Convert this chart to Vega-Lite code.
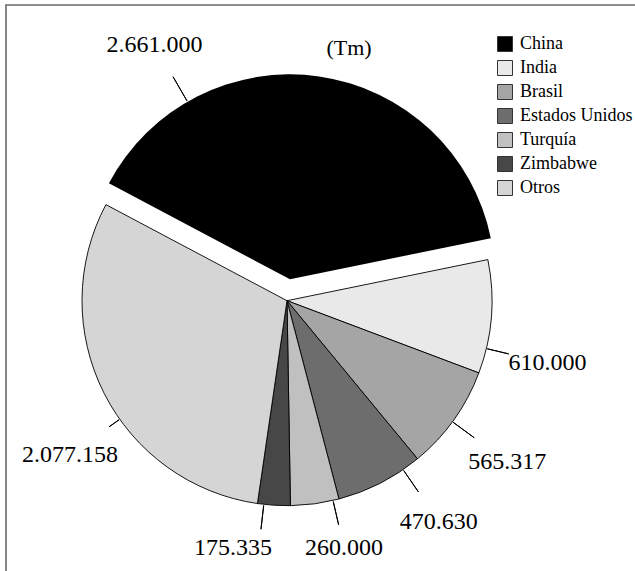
{
  "$schema": "https://vega.github.io/schema/vega-lite/v6.json",
  "width": 635,
  "height": 571,
  "autosize": {"type": "fit", "contains": "padding"},
  "padding": {"left": 6, "top": 5, "right": -3, "bottom": -3},
  "background": "#ffffff",
  "view": {"stroke": "#6a6a6a", "strokeWidth": 1.6},
  "config": {
    "view": {"stroke": "#6a6a6a", "strokeWidth": 1.6},
    "locale": {"number": {"decimal": ",", "thousands": ".", "grouping": [3], "currency": ["", " €"]}}
  },
  "title": {"text": "(Tm)", "anchor": "middle", "frame": "group", "dx": 27, "offset": -72, "baseline": "alphabetic", "font": "Liberation Serif", "fontSize": 22, "fontWeight": "normal", "color": "#000000"},
  "data": {"values": [
    {"pais": "China", "valor": 2661000},
    {"pais": "India", "valor": 610000},
    {"pais": "Brasil", "valor": 565317},
    {"pais": "Estados Unidos", "valor": 470630},
    {"pais": "Turquía", "valor": 260000},
    {"pais": "Zimbabwe", "valor": 175335},
    {"pais": "Otros", "valor": 2077158}
  ]},
  "transform": [
    {"stack": "valor", "groupby": [], "as": ["v0", "v1"]},
    {"calculate": "(datum.v0 + datum.v1) / 2", "as": "mid"}
  ],
  "encoding": {
    "theta": {"field": "mid", "type": "quantitative", "scale": {"domain": [0, 6819440], "range": [-1.08298, 5.2002], "zero": false, "nice": false}},
    "theta2": {"field": "mid"}
  },
  "layer": [
    {
      "transform": [{"filter": "datum.pais !== 'China'"}],
      "mark": {"type": "arc", "outerRadius": 205, "stroke": "#000000", "strokeWidth": 0.9, "xOffset": -35, "yOffset": 11.2},
      "encoding": {
        "theta": {"field": "v0", "type": "quantitative", "scale": {"domain": [0, 6819440], "range": [-1.08298, 5.2002], "zero": false, "nice": false}},
        "theta2": {"field": "v1"},
        "color": {"field": "pais", "type": "nominal",
          "scale": {"domain": ["China", "India", "Brasil", "Estados Unidos", "Turquía", "Zimbabwe", "Otros"],
                    "range": ["#000000", "#e9e9e9", "#a5a5a5", "#6d6d6d", "#c0c0c0", "#474747", "#d5d5d5"]},
          "legend": {"title": null, "orient": "none", "legendX": 490, "legendY": 30, "padding": 0,
            "symbolType": "square", "symbolSize": 225, "symbolStrokeColor": "#333333", "symbolStrokeWidth": 1, "symbolOpacity": 1,
            "labelFont": "Liberation Serif", "labelFontSize": 18, "labelColor": "#000000", "labelOffset": 6, "rowPadding": 4}}
      }
    },
    {
      "transform": [{"filter": "datum.pais === 'China'"}],
      "mark": {"type": "arc", "outerRadius": 205, "strokeWidth": 0, "xOffset": -32, "yOffset": -10.2},
      "encoding": {
        "theta": {"field": "v0", "type": "quantitative", "scale": {"domain": [0, 6819440], "range": [-1.08298, 5.2002], "zero": false, "nice": false}},
        "theta2": {"field": "v1"},
        "color": {"field": "pais", "type": "nominal"}
      }
    },
    {"transform": [{"filter": "datum.pais === 'China'"}],
     "mark": {"type": "arc", "innerRadius": 206, "outerRadius": 234, "stroke": "#000000", "strokeWidth": 1, "fillOpacity": 0, "thetaOffset": -0.6665, "theta2Offset": -0.6665, "xOffset": -32, "yOffset": -10.2}},
    {"transform": [{"filter": "datum.pais === 'India'"}],
     "mark": {"type": "arc", "innerRadius": 206, "outerRadius": 228, "stroke": "#000000", "strokeWidth": 1, "fillOpacity": 0, "thetaOffset": 0.1566, "theta2Offset": 0.1566, "xOffset": -35, "yOffset": 11.2}},
    {"transform": [{"filter": "datum.pais === 'Brasil'"}],
     "mark": {"type": "arc", "innerRadius": 206, "outerRadius": 232, "stroke": "#000000", "strokeWidth": 1, "fillOpacity": 0, "thetaOffset": 0.0113, "theta2Offset": 0.0113, "xOffset": -35, "yOffset": 11.2}},
    {"transform": [{"filter": "datum.pais === 'Estados Unidos'"}],
     "mark": {"type": "arc", "innerRadius": 206, "outerRadius": 232, "stroke": "#000000", "strokeWidth": 1, "fillOpacity": 0, "thetaOffset": -0.129, "theta2Offset": -0.129, "xOffset": -35, "yOffset": 11.2}},
    {"transform": [{"filter": "datum.pais === 'Turquía'"}],
     "mark": {"type": "arc", "innerRadius": 206, "outerRadius": 230, "stroke": "#000000", "strokeWidth": 1, "fillOpacity": 0, "thetaOffset": -0.0899, "theta2Offset": -0.0899, "xOffset": -35, "yOffset": 11.2}},
    {"transform": [{"filter": "datum.pais === 'Zimbabwe'"}],
     "mark": {"type": "arc", "innerRadius": 206, "outerRadius": 230, "stroke": "#000000", "strokeWidth": 1, "fillOpacity": 0, "thetaOffset": 0.0494, "theta2Offset": 0.0494, "xOffset": -35, "yOffset": 11.2}},
    {"transform": [{"filter": "datum.pais === 'Otros'"}],
     "mark": {"type": "arc", "innerRadius": 206, "outerRadius": 218, "stroke": "#000000", "strokeWidth": 1, "fillOpacity": 0, "thetaOffset": -0.1477, "theta2Offset": -0.1477, "xOffset": -35, "yOffset": 11.2}},
    {"transform": [{"filter": "datum.pais === 'China'"}],
     "mark": {"type": "text", "font": "Liberation Serif", "fontSize": 24, "color": "#000000", "align": "center", "baseline": "middle", "radius": 271, "thetaOffset": -0.6665, "xOffset": -32, "yOffset": -10.2},
     "encoding": {"text": {"field": "valor", "type": "quantitative", "format": ",d"}}},
    {"transform": [{"filter": "datum.pais === 'India'"}],
     "mark": {"type": "text", "font": "Liberation Serif", "fontSize": 24, "color": "#000000", "align": "center", "baseline": "middle", "radius": 268, "thetaOffset": 0.1566, "xOffset": -35, "yOffset": 11.2},
     "encoding": {"text": {"field": "valor", "type": "quantitative", "format": ",d"}}},
    {"transform": [{"filter": "datum.pais === 'Brasil'"}],
     "mark": {"type": "text", "font": "Liberation Serif", "fontSize": 24, "color": "#000000", "align": "center", "baseline": "middle", "radius": 273, "thetaOffset": 0.0113, "xOffset": -35, "yOffset": 11.2},
     "encoding": {"text": {"field": "valor", "type": "quantitative", "format": ",d"}}},
    {"transform": [{"filter": "datum.pais === 'Estados Unidos'"}],
     "mark": {"type": "text", "font": "Liberation Serif", "fontSize": 24, "color": "#000000", "align": "center", "baseline": "middle", "radius": 268, "thetaOffset": -0.129, "xOffset": -35, "yOffset": 11.2},
     "encoding": {"text": {"field": "valor", "type": "quantitative", "format": ",d"}}},
    {"transform": [{"filter": "datum.pais === 'Turquía'"}],
     "mark": {"type": "text", "font": "Liberation Serif", "fontSize": 24, "color": "#000000", "align": "center", "baseline": "middle", "radius": 254, "thetaOffset": -0.0899, "xOffset": -35, "yOffset": 11.2},
     "encoding": {"text": {"field": "valor", "type": "quantitative", "format": ",d"}}},
    {"transform": [{"filter": "datum.pais === 'Zimbabwe'"}],
     "mark": {"type": "text", "font": "Liberation Serif", "fontSize": 24, "color": "#000000", "align": "center", "baseline": "middle", "radius": 253, "thetaOffset": 0.1506, "xOffset": -35, "yOffset": 11.2},
     "encoding": {"text": {"field": "valor", "type": "quantitative", "format": ",d"}}},
    {"transform": [{"filter": "datum.pais === 'Otros'"}],
     "mark": {"type": "text", "font": "Liberation Serif", "fontSize": 24, "color": "#000000", "align": "center", "baseline": "middle", "radius": 266, "thetaOffset": -0.1477, "xOffset": -35, "yOffset": 11.2},
     "encoding": {"text": {"field": "valor", "type": "quantitative", "format": ",d"}}}
  ]
}
